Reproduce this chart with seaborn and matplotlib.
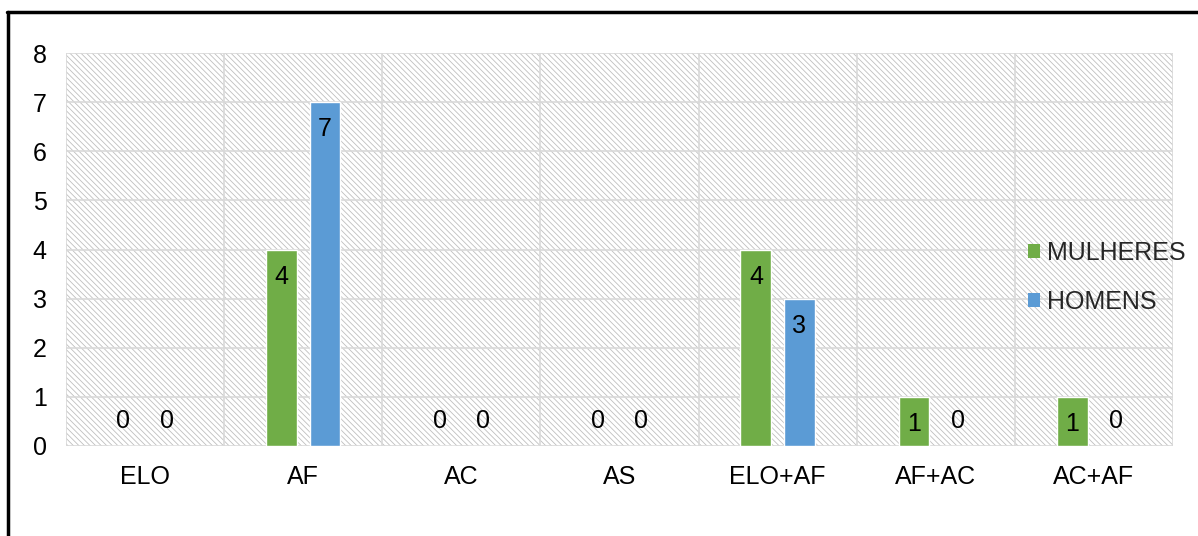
import matplotlib
matplotlib.use("Agg")
import matplotlib.pyplot as plt
from matplotlib.lines import Line2D
from matplotlib.patches import Rectangle, Patch
import pandas as pd
import seaborn as sns

categorias = ["ELO", "AF", "AC", "AS", "ELO+AF", "AF+AC", "AC+AF"]
mulheres = [0, 4, 0, 0, 4, 1, 1]
homens = [0, 7, 0, 0, 3, 0, 0]
series = ["MULHERES", "HOMENS"]
cores = ["#70AD47", "#5B9BD5"]
yticks = [0, 1, 2, 3, 4, 5, 6, 7, 8]

df = pd.DataFrame({
    "categoria": categorias * 2,
    "valor": mulheres + homens,
    "sexo": [series[0]] * len(categorias) + [series[1]] * len(categorias),
})

sns.set_theme(style="white")
plt.rcParams["font.family"] = ["Liberation Sans", "DejaVu Sans"]
plt.rcParams["hatch.linewidth"] = 0.6

fig = plt.figure(figsize=(11.98, 5.36), dpi=100)
ax = fig.add_axes([0.0551, 0.168, 0.9240, 0.733])

# hatched background like the original
bg = Rectangle((0, 0), 1, 1, transform=ax.transAxes, facecolor="white",
               edgecolor="#BFBFBF", hatch="\\\\\\\\\\\\", linewidth=0, zorder=0)
ax.add_patch(bg)

sns.barplot(data=df, x="categoria", y="valor", hue="sexo", palette=cores,
            width=0.55, gap=0.29, saturation=1, legend=False, ax=ax, zorder=3)

ax.set_ylim(0, 8)
ax.set_xlim(-0.5, len(categorias) - 0.5)
ax.set_yticks(yticks)
ax.set_xlabel("")
ax.set_ylabel("")

# grid: horizontal at every unit, vertical at category boundaries
for y in yticks:
    ax.axhline(y, color="#D9D9D9", lw=1.2, zorder=1)
for i in range(len(categorias) + 1):
    ax.axvline(i - 0.5, color="#D9D9D9", lw=1.2, zorder=1)
for s in ax.spines.values():
    s.set_visible(False)

ax.tick_params(axis="both", length=0, labelsize=18, colors="black")
ax.tick_params(axis="x", pad=14)
ax.tick_params(axis="y", pad=14)

# value labels
for cont in ax.containers:
    for bar in cont:
        v = bar.get_height()
        ypos = v - 0.55 if v > 0 else 0.5
        ax.text(bar.get_x() + bar.get_width() / 2, ypos, f"{int(v)}",
                ha="center", va="center", fontsize=18, color="black", zorder=4)

handles = [Patch(facecolor=c, edgecolor="none") for c in cores]
ax.legend(handles, series, loc="center left", bbox_to_anchor=(0.86, 0.43),
          frameon=False, fontsize=18, handlelength=0.5, handleheight=0.5,
          handletextpad=0.25, labelspacing=1.0, borderaxespad=0)

# outer frame fragment (top and left edges)
fig.add_artist(Line2D([0.0058, 1.0], [0.9776, 0.9776], color="black", lw=2.5,
                      transform=fig.transFigure))
fig.add_artist(Line2D([0.0067, 0.0067], [0.0, 0.9776], color="black", lw=2.5,
                      transform=fig.transFigure))

fig.savefig("out.png", dpi=100)
